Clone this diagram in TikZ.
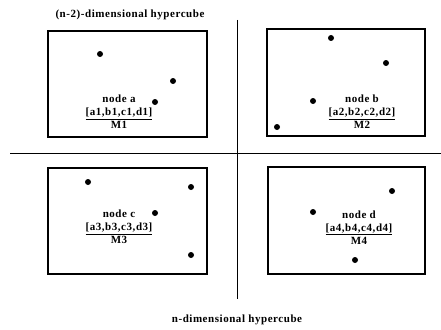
\documentclass[tikz,border=0pt]{standalone}
\usepackage{fontspec}
\setmainfont{Liberation Serif}
\begin{document}
\begin{tikzpicture}[x=1pt,y=-1pt,
  box/.style={draw,line width=1.1pt,inner sep=0pt},
  dot/.style={circle,fill=black,inner sep=0pt,minimum size=6pt},
  lbl/.style={font=\bfseries\fontsize{11}{13}\selectfont\addfontfeature{LetterSpace=5},align=center,inner sep=0pt},
  sep/.style={line width=0.9pt}]
\useasboundingbox (0,0) rectangle (441,329);
% boxes
\node[box,minimum width=159pt,minimum height=106pt] (A) at (127.5,84) {};
\node[box,minimum width=158pt,minimum height=107pt] (B) at (346,82.5) {};
\node[box,minimum width=159pt,minimum height=106pt] (C) at (127.5,221) {};
\node[box,minimum width=157pt,minimum height=107pt] (D) at (346.5,220.5) {};
% separators
\coordinate (hl) at (10,153); \coordinate (hr) at (441,153);
\coordinate (vt) at (237,20); \coordinate (vb) at (237,299);
\draw[sep] (hl) -- (hr);
\draw[sep] (vt) -- (vb);
% titles
\node[lbl] (t1) at (130,15) {(n-2)-dimensional hypercube};
\node[lbl] (t2) at (237,320) {n-dimensional hypercube};
% labels
\node[lbl] (la) at (119,112) {node a\\\underline{[a1,b1,c1,d1]}\\M1};
\node[lbl] (lb) at (362,112) {node b\\\underline{[a2,b2,c2,d2]}\\M2};
\node[lbl] (lc) at (119,227) {node c\\\underline{[a3,b3,c3,d3]}\\M3};
\node[lbl] (ld) at (359,227.5) {node d\\\underline{[a4,b4,c4,d4]}\\M4};
% dots
\node[dot] (a1) at (100,54) {};
\node[dot] (a2) at (173,81) {};
\node[dot] (a3) at (155,102) {};
\node[dot] (b1) at (331,38) {};
\node[dot] (b2) at (386,63) {};
\node[dot] (b3) at (313,101) {};
\node[dot] (b4) at (277,127) {};
\node[dot] (c1) at (88,182) {};
\node[dot] (c2) at (191,187) {};
\node[dot] (c3) at (155,213) {};
\node[dot] (c4) at (191,255) {};
\node[dot] (d1) at (392,191) {};
\node[dot] (d2) at (313,212) {};
\node[dot] (d3) at (355,260) {};
\end{tikzpicture}
\end{document}
